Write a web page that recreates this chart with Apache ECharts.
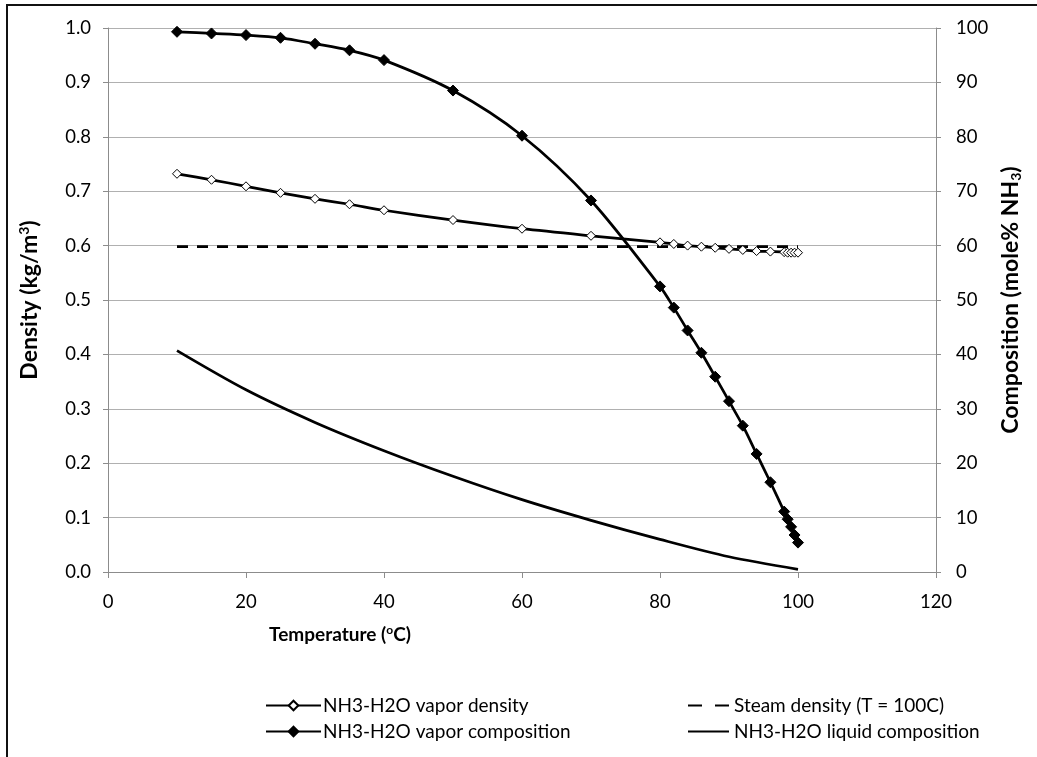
<!DOCTYPE html>
<html>
<head>
<meta charset="utf-8">
<script src="https://cdn.jsdelivr.net/npm/echarts@6/dist/echarts.min.js"></script>
<style>
html,body{margin:0;padding:0;background:#fff;}
#chart{width:1037px;height:757px;}
</style>
</head>
<body>
<div id="chart"></div>
<script>
// Temperatures (°C) for vapor series
const vaporT = [10,15,20,25,30,35,40,50,60,70,80,82,84,86,88,90,92,94,96,98,98.5,99,99.5,100];
// NH3-H2O vapor density (kg/m3)
const vaporDensity = [0.732,0.721,0.709,0.697,0.686,0.676,0.665,0.647,0.631,0.618,0.606,0.603,0.600,0.598,0.596,0.594,0.592,0.590,0.589,0.588,0.587,0.587,0.587,0.587];
// NH3-H2O vapor composition (mole% NH3)
const vaporComp = [99.3,99.0,98.7,98.2,97.1,95.9,94.1,88.5,80.2,68.3,52.5,48.6,44.4,40.3,35.9,31.4,26.9,21.7,16.5,11.1,9.7,8.3,6.8,5.4];
// Steam density at T = 100C
const steamT = [10,100];
const steamDensity = [0.598,0.598];
// NH3-H2O liquid composition (mole% NH3)
const liquidT = [10,20,30,40,50,60,70,80,90,100];
const liquidComp = [40.7,33.5,27.5,22.3,17.6,13.3,9.5,6.0,2.8,0.5];
// Axis ticks
const xTicks = {min:0,max:120,interval:20};
const leftTicks = {min:0,max:1,interval:0.1};
const rightTicks = {min:0,max:100,interval:10};

const names = ['NH3-H2O vapor density','Steam density (T = 100C)','NH3-H2O vapor composition','NH3-H2O liquid composition'];
const pairs = (xs, ys) => xs.map((x,i)=>[x, ys[i]]);

const FONT = 'Lato';
const TICK = 18.5;
const gridColor = '#b0b0b0';
const axisColor = '#8c8c8c';
const titleRich = (size, subAlign) => ({
  b:{fontFamily:FONT,fontSize:size,fontWeight:'bold',color:'#000',lineHeight:size+3},
  s:{fontFamily:FONT,fontSize:Math.round(size*0.62),fontWeight:'bold',color:'#000',verticalAlign:subAlign,lineHeight:Math.round(size*0.62)}
});

const chart = echarts.init(document.getElementById('chart'));
chart.setOption({
  animation:false,
  backgroundColor:'#fff',
  textStyle:{fontFamily:FONT},
  graphic:[{type:'rect',shape:{x:7,y:5,width:1100,height:800},style:{fill:'none',stroke:'#111',lineWidth:2},silent:true,z:-1}],
  grid:{left:108,right:101,top:28,bottom:185},
  xAxis:{
    type:'value',min:xTicks.min,max:xTicks.max,interval:xTicks.interval,
    name:'{b|Temperature (}{s|o}{b|C)}',nameLocation:'middle',nameGap:52,
    nameTextStyle:{padding:[0,364,0,0],rich:titleRich(19,'top')},
    axisLine:{show:true,onZero:false,lineStyle:{color:axisColor,width:1}},
    axisTick:{show:true,length:6,lineStyle:{color:axisColor}},
    axisLabel:{fontSize:TICK,color:'#000',margin:21,fontFamily:FONT},
    splitLine:{show:false}
  },
  yAxis:[{
    type:'value',min:leftTicks.min,max:leftTicks.max,interval:leftTicks.interval,position:'left',
    name:'{b|Density (kg/m}{s|3}{b|)}',nameLocation:'middle',nameRotate:90,nameGap:65,
    nameTextStyle:{rich:titleRich(23,'top')},
    axisLine:{show:true,lineStyle:{color:axisColor,width:1}},
    axisTick:{show:true,length:5,lineStyle:{color:axisColor}},
    axisLabel:{fontSize:TICK,color:'#000',margin:17,fontFamily:FONT,formatter:v=>v.toFixed(1)},
    splitLine:{show:true,lineStyle:{color:gridColor,width:1}}
  },{
    type:'value',min:rightTicks.min,max:rightTicks.max,interval:rightTicks.interval,position:'right',
    name:'{b|Composition (mole% NH}{s|3}{b|)}',nameLocation:'middle',nameRotate:90,nameGap:60,
    nameTextStyle:{rich:titleRich(23,'bottom')},
    axisLine:{show:true,lineStyle:{color:axisColor,width:1}},
    axisTick:{show:true,length:5,lineStyle:{color:axisColor}},
    axisLabel:{fontSize:TICK,color:'#000',margin:20,fontFamily:FONT},
    splitLine:{show:false}
  }],
  legend:[{
    data:[names[0],names[2]],orient:'vertical',left:265,top:696,padding:0,itemWidth:55,itemHeight:12,itemGap:7,
    textStyle:{fontSize:19,color:'#000',fontFamily:FONT,padding:[0,0,0,-3]}
  },{
    data:[{name:names[1],itemStyle:{opacity:0},lineStyle:{type:[14,13]}},{name:names[3],itemStyle:{opacity:0}}],
    orient:'vertical',left:687,top:696,padding:0,itemWidth:41,itemHeight:12,itemGap:7,
    textStyle:{fontSize:19,color:'#000',fontFamily:FONT}
  }],
  series:[{
    name:names[0],type:'line',yAxisIndex:0,data:pairs(vaporT,vaporDensity),
    smooth:0.3,
    symbol:'diamond',symbolSize:9,showAllSymbol:true,
    itemStyle:{color:'#fff',borderColor:'#000',borderWidth:1},
    lineStyle:{color:'#000',width:2.75},z:3
  },{
    name:names[1],type:'line',yAxisIndex:0,data:pairs(steamT,steamDensity),
    symbol:'none',itemStyle:{color:'#000'},
    lineStyle:{color:'#000',width:2.75,type:[11,9]},z:2
  },{
    name:names[2],type:'line',yAxisIndex:1,data:pairs(vaporT,vaporComp),
    smooth:0.3,
    symbol:'diamond',symbolSize:11,showAllSymbol:true,
    itemStyle:{color:'#000',borderColor:'#000',borderWidth:1},
    lineStyle:{color:'#000',width:2.75},z:4
  },{
    name:names[3],type:'line',yAxisIndex:1,data:pairs(liquidT,liquidComp),
    smooth:0.3,symbol:'none',itemStyle:{color:'#000'},
    lineStyle:{color:'#000',width:2.75},z:3
  }]
});
</script>
</body>
</html>
